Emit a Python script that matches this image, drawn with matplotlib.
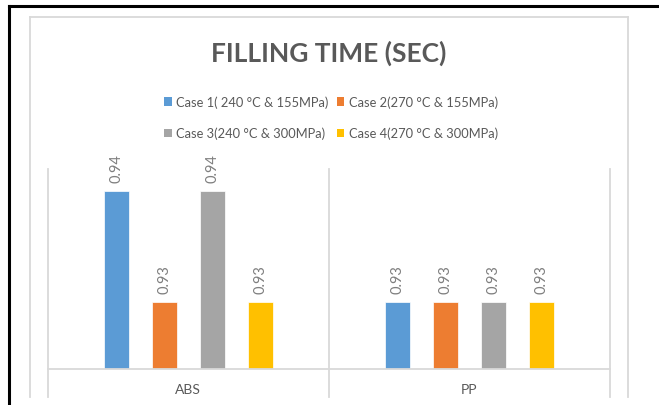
import matplotlib
matplotlib.use("Agg")
import numpy as np
import matplotlib.pyplot as plt
from matplotlib.lines import Line2D
from matplotlib.patches import Patch

# === Data ===
categories = ["ABS", "PP"]
series_names = [
    "Case 1( 240 °C & 155MPa)",
    "Case 2(270 °C & 155MPa)",
    "Case 3(240 °C & 300MPa)",
    "Case 4(270 °C & 300MPa)",
]
case1 = [0.94, 0.93]
case2 = [0.93, 0.93]
case3 = [0.94, 0.93]
case4 = [0.93, 0.93]
colors = ["#5B9BD5", "#ED7D31", "#A5A5A5", "#FFC000"]

plt.rcParams["font.family"] = ["Lato", "DejaVu Sans"]
W, H = 659, 406
fig = plt.figure(figsize=(W / 100, H / 100), dpi=100)

def fx(px):
    return px / W

def fy(py):
    return 1 - py / H

# === Outer borders (black) and chart frame (light gray) ===
fig.add_artist(Line2D([fx(9), 1], [fy(6.5), fy(6.5)], color="black", lw=2.2))
fig.add_artist(Line2D([fx(9), fx(9)], [0, fy(6.5)], color="black", lw=2.2))
frame_c = "#d9d9d9"
fig.add_artist(Line2D([fx(30), fx(628)], [fy(17.5), fy(17.5)], color=frame_c, lw=1.3))
fig.add_artist(Line2D([fx(30), fx(30)], [fy(398), fy(17.5)], color=frame_c, lw=1.3))
fig.add_artist(Line2D([fx(628), fx(628)], [fy(398), fy(17.5)], color=frame_c, lw=1.3))

# === Axes ===
ax = fig.add_axes([fx(48), fy(370), fx(609.5) - fx(48), (370 - 170) / H])
x = np.arange(len(categories))
width = 0.089
pitch = 0.171
all_series = [case1, case2, case3, case4]
for i, vals in enumerate(all_series):
    pos = x + (i - 1.5) * pitch
    ax.bar(pos, vals, width, color=colors[i], edgecolor="white", linewidth=0.5)
    for xp, v in zip(pos, vals):
        ax.annotate(f"{v:.2f}", (xp, v), xytext=(0, 7), textcoords="offset points",
                    rotation=90, ha="center", va="bottom", fontsize=10.5, color="#7f7f7f")

ax.set_xlim(-0.5, 1.5)
ax.set_ylim(0.924, 0.942)
for s in ax.spines.values():
    s.set_visible(False)
ax.set_xticks([])
ax.set_yticks([])

grid_c = "#d9d9d9"
trans = ax.get_xaxis_transform()
ax.plot([-0.5, 1.5], [0, 0], transform=trans, color=grid_c, lw=1.3, clip_on=False)
for xs in [-0.5, 0.5, 1.5]:
    ax.plot([xs, xs], [-0.14, 1], transform=trans, color=grid_c, lw=1.3, clip_on=False)
for xi, cat in zip(x, categories):
    ax.text(xi, -0.1, cat, transform=trans, ha="center", va="center",
            fontsize=10, color="#595959")

# === Title & legend ===
fig.text(fx(329), fy(53), "FILLING TIME (SEC)", ha="center", va="center",
         fontsize=19, fontweight="bold", color="#595959")

handles = [Patch(facecolor=c) for c in colors]
order = [0, 2, 1, 3]
fig.legend([handles[k] for k in order], [series_names[k] for k in order],
           loc="center", bbox_to_anchor=(fx(331), fy(118.5)), ncol=2, frameon=False,
           fontsize=9.3, labelcolor="#595959", handlelength=0.6, handleheight=0.6,
           handletextpad=0.35, columnspacing=0.6, labelspacing=1.45)

plt.savefig("out.png", dpi=100)
